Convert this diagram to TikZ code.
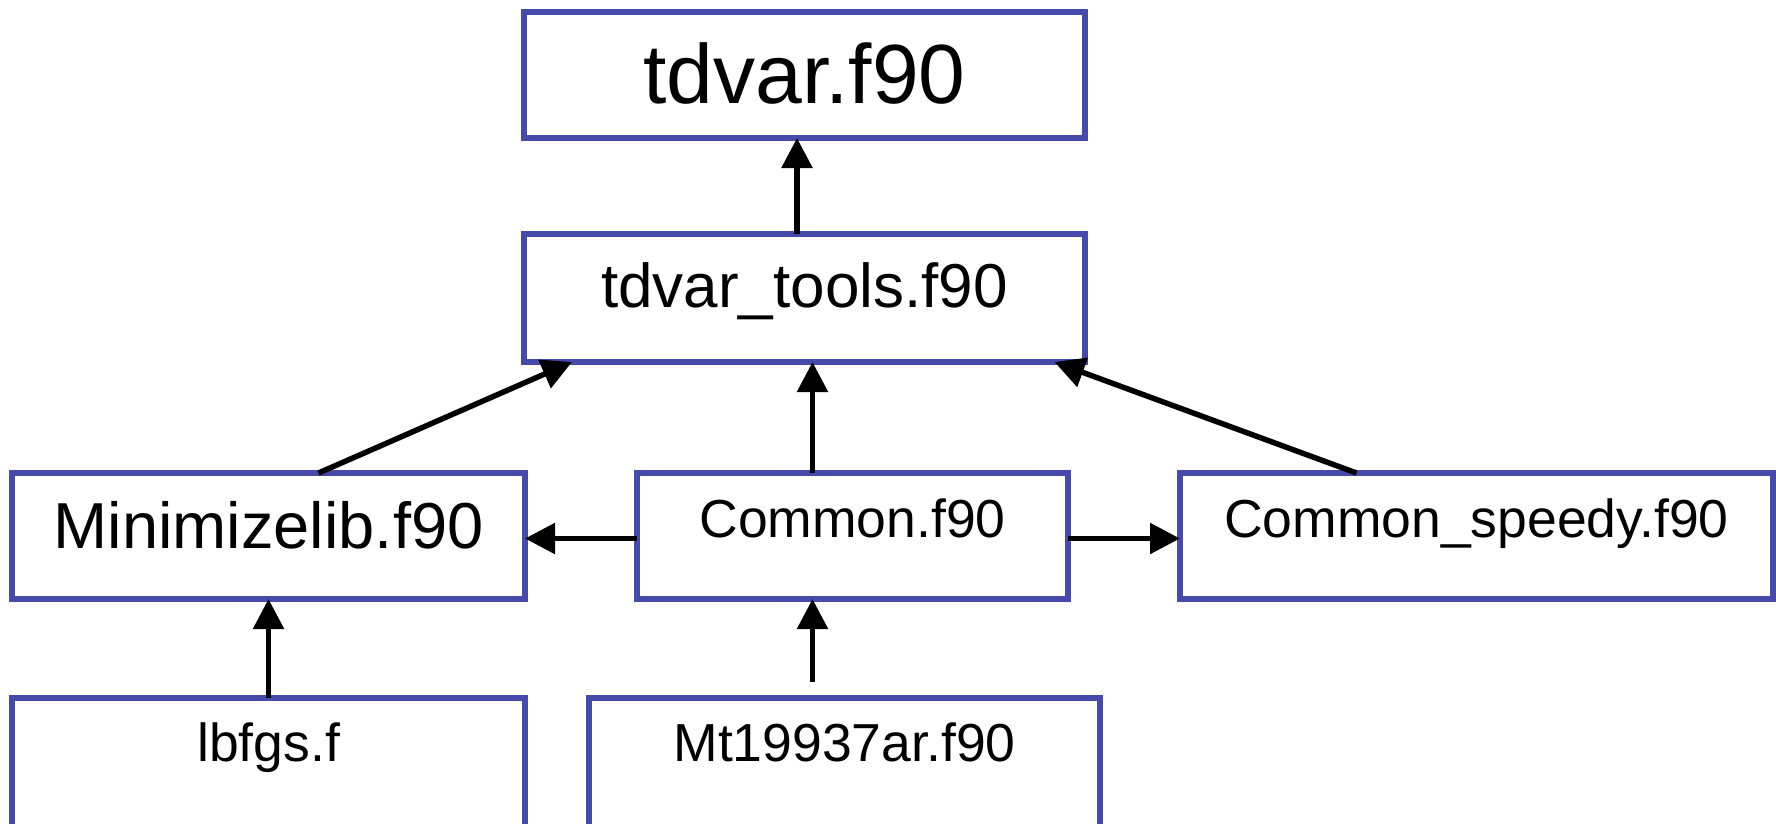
\documentclass[tikz,border=0pt]{standalone}
\usepackage{fontspec}
\setmainfont{Liberation Sans}
\usetikzlibrary{arrows.meta,calc}
\definecolor{boxblue}{RGB}{70,74,170}
\tikzset{
  modbox/.style={draw=boxblue, line width=5.5pt, fill=white, rectangle,
    inner sep=0pt, outer sep=0pt},
  lbl/.style={inner sep=0pt, outer sep=0pt, anchor=base, text=black},
  dep/.style={draw=black, line width=5.5pt,
    -{Triangle[length=30pt,width=30pt]}},
}
\begin{document}
\begin{tikzpicture}[x=1pt,y=-1pt]
  \clip (0,0) rectangle (1776,823);
  \fill[white] (0,0) rectangle (1776,823);

  % module boxes
  \node[modbox, minimum width=561pt, minimum height=126pt] (tdvar)  at (804.5,75)  {};
  \node[modbox, minimum width=561pt, minimum height=128pt] (tools)  at (804.5,298) {};
  \node[modbox, minimum width=513pt, minimum height=126pt] (mini)   at (268.5,536) {};
  \node[modbox, minimum width=431pt, minimum height=126pt] (common) at (852.5,536) {};
  \node[modbox, minimum width=593pt, minimum height=126pt] (speedy) at (1476.5,536) {};
  \node[modbox, minimum width=513pt, minimum height=152pt] (lbfgs)  at (268.5,774) {};
  \node[modbox, minimum width=511pt, minimum height=152pt] (mt)     at (844.5,774) {};

  % file names
  \node[lbl, font=\fontsize{84}{96}\selectfont] at ($(tdvar.north)+(0,91)$)  {tdvar.f90};
  \node[lbl, font=\fontsize{62}{72}\selectfont] at ($(tools.north)+(0,73)$)  {tdvar\_tools.f90};
  \node[lbl, font=\fontsize{65}{74}\selectfont] at ($(mini.north)+(0,75)$)   {Minimizelib.f90};
  \node[lbl, font=\fontsize{53.5}{62}\selectfont] at ($(common.north)+(0,64)$) {Common.f90};
  \node[lbl, font=\fontsize{53.5}{62}\selectfont] at ($(speedy.north)+(0,64)$) {Common\_speedy.f90};
  \node[lbl, font=\fontsize{53.5}{62}\selectfont] at ($(lbfgs.north)+(0,63)$)  {lbfgs.f};
  \node[lbl, font=\fontsize{53.5}{62}\selectfont] at ($(mt.north)+(0,63)$)     {Mt19937ar.f90};

  % dependencies
  \coordinate (mtout) at ($(common.south)+(-40,83)$);
  \draw[dep] ($(tools.north)+(-7.5,0)$) -- ($(tdvar.south)+(-7.5,0)$);
  \draw[dep] ($(mini.north)+(50,0)$) -- ($(tools.south)+(-232.5,0)$);
  \draw[dep] ($(common.north)+(-40,0)$) -- ($(tools.south)+(8,0)$);
  \draw[dep] ($(speedy.north)+(-120,0)$) -- ($(tools.south)+(250,0)$);
  \draw[dep] ($(common.west)+(0,2.5)$) -- ($(mini.east)+(0,2.5)$);
  \draw[dep] ($(common.east)+(0,2.5)$) -- ($(speedy.west)+(0,2.5)$);
  \draw[dep] (lbfgs.north) -- (mini.south);
  \draw[dep] (mtout) -- ($(common.south)+(-40,0)$);
\end{tikzpicture}
\end{document}
